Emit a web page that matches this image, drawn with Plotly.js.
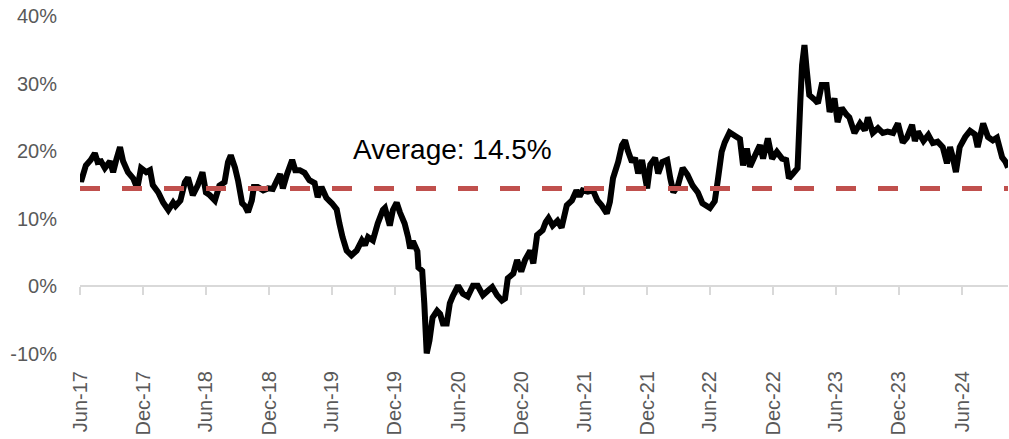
<!DOCTYPE html>
<html>
<head>
<meta charset="utf-8">
<script src="https://cdn.plot.ly/plotly-3.0.1.min.js"></script>
<style>html,body{margin:0;padding:0;background:#fff;}#chart{width:1009px;height:439px;}</style>
</head>
<body>
<div id="chart"></div>
<script>
const dates = [
"2017-06-01","2017-06-04","2017-06-18","2017-07-02","2017-07-14","2017-07-22","2017-08-01","2017-08-12","2017-08-27","2017-09-05",
"2017-09-14","2017-09-25","2017-10-04","2017-10-18","2017-11-02","2017-11-14","2017-11-25","2017-12-10","2017-12-21","2017-12-29",
"2018-01-14","2018-01-28","2018-02-12","2018-02-26","2018-03-05","2018-03-19","2018-04-01","2018-04-10","2018-04-24","2018-05-08",
"2018-05-22","2018-06-01","2018-06-12","2018-06-27","2018-07-10","2018-07-25","2018-08-04","2018-08-12","2018-08-24","2018-09-02",
"2018-09-14","2018-09-22","2018-10-01","2018-10-12","2018-10-18","2018-10-29","2018-11-14","2018-11-28","2018-12-12","2018-12-24",
"2019-01-02","2019-01-10","2019-01-22","2019-02-06","2019-02-15","2019-02-28","2019-03-14","2019-03-28","2019-04-12","2019-04-21",
"2019-05-02","2019-05-16","2019-06-01","2019-06-15","2019-06-23","2019-07-02","2019-07-14","2019-07-28","2019-08-12","2019-08-27",
"2019-09-05","2019-09-14","2019-09-28","2019-10-12","2019-10-27","2019-11-02","2019-11-16","2019-11-25","2019-12-06","2019-12-15",
"2019-12-29","2020-01-08","2020-01-14","2020-01-22","2020-02-04","2020-02-07","2020-02-18","2020-02-24","2020-03-02","2020-03-10",
"2020-03-19","2020-04-01","2020-04-10","2020-04-18","2020-04-29","2020-05-08","2020-05-16","2020-06-01","2020-06-15","2020-06-29",
"2020-07-14","2020-07-28","2020-08-12","2020-08-27","2020-09-08","2020-09-22","2020-10-06","2020-10-15","2020-10-23","2020-11-08",
"2020-11-19","2020-12-01","2020-12-12","2020-12-27","2021-01-05","2021-01-16","2021-02-01","2021-02-10","2021-02-18","2021-03-02",
"2021-03-16","2021-03-28","2021-04-12","2021-04-27","2021-05-10","2021-05-19","2021-05-28","2021-06-12","2021-06-27","2021-07-10",
"2021-07-22","2021-08-06","2021-08-15","2021-08-24","2021-09-08","2021-09-19","2021-09-28","2021-10-06","2021-10-18","2021-10-27",
"2021-11-05","2021-11-16","2021-12-01","2021-12-10","2021-12-24","2022-01-02","2022-01-14","2022-01-28","2022-02-06","2022-02-15",
"2022-02-28","2022-03-14","2022-03-28","2022-04-12","2022-04-27","2022-05-10","2022-06-01","2022-06-15","2022-06-23","2022-07-05",
"2022-07-14","2022-07-28","2022-08-12","2022-08-27","2022-09-05","2022-09-16","2022-09-25","2022-10-10","2022-10-24","2022-11-02",
"2022-11-16","2022-11-28","2022-12-12","2022-12-27","2023-01-08","2023-01-16","2023-01-28","2023-02-10","2023-02-18","2023-02-23",
"2023-03-02","2023-03-08","2023-03-16","2023-04-01","2023-04-10","2023-04-21","2023-05-05","2023-05-14","2023-05-28","2023-06-06",
"2023-06-18","2023-07-02","2023-07-10","2023-07-25","2023-08-10","2023-08-24","2023-09-02","2023-09-16","2023-10-01","2023-10-15",
"2023-10-29","2023-11-14","2023-11-28","2023-12-12","2023-12-24","2024-01-08","2024-01-16","2024-01-25","2024-02-10","2024-02-24",
"2024-03-08","2024-03-22","2024-04-06","2024-04-18","2024-04-27","2024-05-05","2024-05-14","2024-05-25","2024-06-10","2024-06-24",
"2024-07-08","2024-07-16","2024-08-01","2024-08-15","2024-08-29","2024-09-10","2024-09-25","2024-10-04","2024-10-12"
];
const values = [
16.4,15.5,17.9,18.7,19.7,18.4,18.5,17.5,18.5,16.9,
18.7,20.6,18.5,16.9,16.0,14.5,17.5,16.9,17.2,15.0,
13.9,12.4,11.3,12.4,11.9,12.7,15.4,16.1,13.5,14.9,
16.9,13.9,13.5,12.7,14.9,15.4,18.4,19.4,17.6,15.7,
12.3,11.9,11.0,12.7,14.7,14.7,14.2,14.5,14.4,15.7,
16.6,14.5,16.6,18.7,17.2,17.2,16.8,15.7,15.3,13.2,
14.7,13.1,12.3,11.4,9.3,7.3,5.3,4.6,5.3,6.8,
6.1,7.3,6.8,9.3,11.3,11.6,9.0,11.3,12.4,11.0,
9.3,7.3,5.6,6.7,5.2,2.8,2.3,-2.5,-9.9,-8.0,
-4.6,-3.6,-4.1,-5.5,-5.5,-2.5,-1.5,0.1,-1.1,-1.5,
0.1,0.1,-1.3,-0.6,-0.1,-1.3,-2.1,-1.8,1.2,1.9,
3.9,2.2,3.9,5.3,3.4,7.6,8.3,9.5,10.1,9.0,
9.7,8.7,12.0,12.7,14.2,13.3,14.2,14.0,14.2,12.7,
12.0,10.8,12.5,16.0,18.4,20.9,21.6,20.1,18.4,19.0,
16.7,18.7,14.5,18.0,19.0,16.7,18.4,18.7,16.0,13.9,
14.9,17.5,16.5,14.9,13.9,12.3,11.6,12.6,15.4,19.9,
21.3,22.8,22.3,21.8,17.9,20.4,17.7,19.4,20.9,18.9,
21.9,18.9,19.9,18.9,18.7,16.0,16.7,17.5,27.3,32.7,
35.7,32.3,28.3,27.6,27.1,29.8,29.8,25.8,27.8,24.3,
26.4,25.4,25.0,22.7,24.1,23.1,25.0,22.7,23.4,22.7,
22.9,22.7,24.1,21.3,22.0,23.9,21.5,22.9,21.5,22.4,
21.2,21.4,20.6,18.2,20.6,19.1,16.9,20.6,22.1,23.0,
22.5,20.6,24.1,22.1,21.6,22.0,19.1,18.5,17.6
];
const average = 14.5;
const averageLabel = "Average: 14.5%";
const tickDates = ["2017-06-01","2017-12-01","2018-06-01","2018-12-01","2019-06-01","2019-12-01","2020-06-01","2020-12-01","2021-06-01","2021-12-01","2022-06-01","2022-12-01","2023-06-01","2023-12-01","2024-06-01"];
const tickLabels = ["Jun-17","Dec-17","Jun-18","Dec-18","Jun-19","Dec-19","Jun-20","Dec-20","Jun-21","Dec-21","Jun-22","Dec-22","Jun-23","Dec-23","Jun-24"];
const yTicks = [-10,0,10,20,30,40];
const yLabels = ["-10%","0%","10%","20%","30%","40%"];
const xRange = ["2017-06-01","2024-10-12"];
const yRange = [-10,40];

const FONT = "Liberation Sans, Arial, sans-serif";
const traces = [
  {x:[xRange[0], xRange[1]], y:[average, average], xaxis:"x2", type:"scatter", mode:"lines",
   line:{color:"#c0504d", width:5, dash:"20px,22px"}, hoverinfo:"skip"},
  {x:dates, y:values, type:"scatter", mode:"lines", line:{color:"#000000", width:6, simplify:false}}
];
const zeroPos = (0 - yRange[0]) / (yRange[1] - yRange[0]);
const layout = {
  width:1009, height:439,
  margin:{l:80, r:1, t:16, b:85},
  paper_bgcolor:"#ffffff", plot_bgcolor:"#ffffff",
  showlegend:false,
  font:{family:FONT, color:"#595959"},
  xaxis:{type:"date", range:xRange, tickmode:"array", tickvals:tickDates, ticktext:tickLabels,
         tickangle:-90, ticks:"", showgrid:false, zeroline:false, showline:false,
         tickfont:{family:FONT, size:20, color:"#595959"}, ticklabelstandoff:12},
  xaxis2:{type:"date", matches:"x", overlaying:"x", anchor:"free", position:zeroPos,
          tickmode:"array", tickvals:tickDates, showticklabels:false, ticks:"outside",
          ticklen:8, tickwidth:2, tickcolor:"#d9d9d9", showline:true, linecolor:"#d9d9d9",
          linewidth:2, showgrid:false, zeroline:false, layer:"below traces"},
  yaxis:{range:yRange, tickmode:"array", tickvals:yTicks, ticktext:yLabels, showgrid:false,
         zeroline:false, showline:false, ticks:"", ticklabelstandoff:22,
         tickfont:{family:FONT, size:20, color:"#595959"}},
  annotations:[{text:averageLabel, xref:"paper", yref:"paper", x:0.401, y:0.604,
                xanchor:"center", yanchor:"middle", showarrow:false,
                font:{family:FONT, size:28, color:"#000000"}}]
};
Plotly.newPlot("chart", traces, layout, {staticPlot:true, displayModeBar:false});
</script>
</body>
</html>
